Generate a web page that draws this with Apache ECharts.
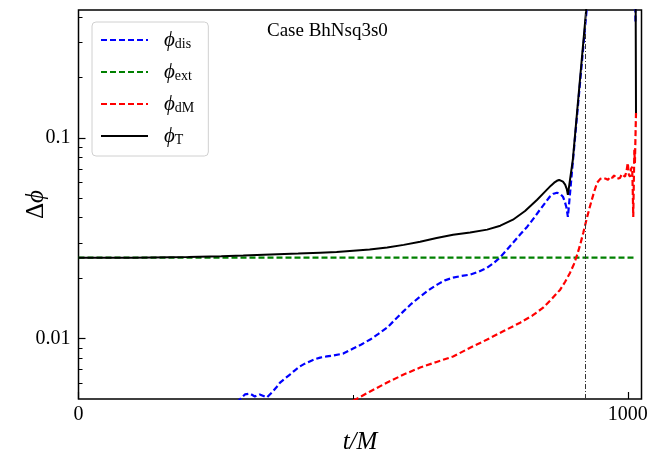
<!DOCTYPE html>
<html>
<head>
<meta charset="utf-8">
<script src="https://cdn.jsdelivr.net/npm/echarts@6/dist/echarts.min.js"></script>
<style>
  html, body { margin: 0; padding: 0; background: #fff; }
  #chart { width: 649px; height: 453px; }
</style>
</head>
<body>
<div id="chart"></div>
<script>
// t/M samples and delta phi values
const tDis = [288, 303, 312, 321, 330, 343, 352, 360, 367, 376, 385, 394, 403, 412, 421, 430, 440, 452, 463, 482, 500, 515, 531, 546, 562, 576, 591, 606, 622, 637, 653, 667, 682, 697, 713, 728, 744, 756, 767, 779, 791, 804, 817, 829, 840, 850, 858, 865, 871, 877, 882, 885, 888, 891, 895, 900, 926, 940, 1000, 1013, 1014];
const phiDis = [0.0048, 0.00527, 0.00532, 0.00515, 0.00527, 0.00509, 0.00538, 0.00570, 0.00604, 0.00633, 0.00662, 0.00695, 0.00726, 0.00750, 0.00769, 0.00788, 0.00804, 0.00815, 0.00823, 0.00842, 0.00892, 0.00935, 0.00989, 0.01055, 0.01134, 0.0124, 0.01362, 0.0149, 0.01618, 0.0174, 0.01857, 0.0195, 0.02011, 0.0205, 0.02082, 0.0215, 0.02255, 0.0238, 0.0253, 0.0275, 0.0300, 0.0330, 0.0361, 0.0398, 0.0438, 0.0476, 0.0509, 0.0527, 0.0533, 0.0525, 0.0509, 0.0485, 0.0454, 0.0404, 0.0533, 0.0760, 0.46, 1.0, 1.0, 1.0, 0.38];

const tExt = [0, 1015];
const phiExt = [0.0253, 0.0253];

const tDM = [500, 531, 562, 592, 622, 652, 682, 713, 744, 774, 804, 826, 846, 862, 877, 886, 895, 902, 908, 914, 919, 925, 931, 938, 944, 950, 955, 960, 964, 968, 972, 975, 977, 981, 986, 989, 992, 995, 998, 1000, 1002, 1004, 1006, 1008, 1009, 1010, 1011, 1012, 1013, 1015];
const phiDM = [0.0049, 0.00545, 0.00604, 0.00662, 0.00717, 0.00765, 0.00814, 0.0090, 0.00989, 0.0109, 0.0120, 0.0130, 0.01426, 0.0158, 0.01753, 0.0192, 0.0213, 0.0235, 0.0262, 0.0298, 0.0337, 0.0393, 0.0454, 0.0530, 0.0597, 0.0625, 0.0632, 0.0625, 0.0618, 0.0640, 0.0632, 0.0650, 0.0647, 0.0625, 0.0632, 0.0660, 0.0670, 0.0640, 0.0690, 0.0751, 0.0655, 0.0640, 0.0700, 0.0717, 0.0560, 0.0404, 0.0600, 0.0872, 0.0750, 0.1332];

const tT = [0, 100, 200, 260, 300, 350, 400, 440, 470, 500, 530, 562, 592, 622, 652, 682, 713, 744, 768, 791, 813, 835, 848, 860, 866, 871, 875, 878, 882, 886, 889, 891, 900, 926, 940, 1000, 1014, 1015];
const phiT = [0.0253, 0.0253, 0.0255, 0.0257, 0.0259, 0.0262, 0.0265, 0.0268, 0.0270, 0.0274, 0.0278, 0.0284, 0.0293, 0.0304, 0.0317, 0.0329, 0.0338, 0.0349, 0.0365, 0.0391, 0.0432, 0.0492, 0.0535, 0.0578, 0.0598, 0.0611, 0.0617, 0.0615, 0.0605, 0.0585, 0.0555, 0.0520, 0.0778, 0.49, 1.0, 1.0, 1.0, 0.133];

const mergerT = 923;

const xMajorTicks = [0, 1000];
const xMinorTicks = [500];
const yMajorTicks = [0.01, 0.1];
const yMinorTicks = [0.006, 0.007, 0.008, 0.009, 0.02, 0.03, 0.04, 0.05, 0.06, 0.07, 0.08, 0.09, 0.2, 0.3, 0.4];

const serif = 'Liberation Serif, DejaVu Serif, serif';
const zip = (a, b) => a.map((v, i) => [v, b[i]]);

const myChart = echarts.init(document.getElementById('chart'));

const legendRich = {
  p: { fontFamily: serif, fontStyle: 'italic', fontSize: 21, lineHeight: 22, color: '#000', padding: [0, 0, 0, 11] },
  s: { fontFamily: serif, fontSize: 14, lineHeight: 14, color: '#000', padding: [8, 0, 0, 0] }
};
const subs = { dis: 'dis', ext: 'ext', dM: 'dM', T: 'T' };

myChart.setOption({
  animation: false,
  grid: {
    left: 78.5,
    top: 10,
    right: 7.5,
    bottom: 54,
    outerBoundsMode: 'none',
    containLabel: false,
    show: true,
    borderColor: '#000',
    borderWidth: 1.5,
    backgroundColor: 'transparent'
  },
  graphic: [
    {
      type: 'text',
      left: 267,
      top: 22,
      style: { text: 'Case BhNsq3s0', font: '19px ' + serif, fill: '#000' }
    }
  ],
  legend: {
    orient: 'vertical',
    left: 92,
    top: 22,
    padding: [7, 14, 9, 8],
    itemWidth: 47,
    itemHeight: 14,
    itemGap: 10,
    backgroundColor: 'rgba(255,255,255,0.8)',
    borderColor: '#d0d0d0',
    borderWidth: 1,
    borderRadius: 4,
    itemStyle: { opacity: 0 },
    lineStyle: { width: 2 },
    formatter: function (name) { return '{p|ϕ}{s|' + subs[name] + '}'; },
    textStyle: { rich: legendRich },
    data: ['dis', 'ext', 'dM', 'T']
  },
  xAxis: [
    {
      type: 'value',
      min: 0,
      max: 1025,
      position: 'bottom',
      name: 't/M',
      nameLocation: 'middle',
      nameGap: 26,
      nameTextStyle: { fontFamily: serif, fontStyle: 'italic', fontSize: 25, color: '#000' },
      axisLine: { show: false },
      splitLine: { show: false },
      axisTick: { inside: true, length: 7, lineStyle: { color: '#000', width: 1.2 }, customValues: xMajorTicks },
      axisLabel: {
        customValues: xMajorTicks,
        margin: 6,
        fontFamily: serif,
        fontSize: 20,
        color: '#000',
        formatter: function (v) { return String(Math.round(v)); }
      }
    },
    {
      type: 'value',
      min: 0,
      max: 1025,
      position: 'bottom',
      axisLine: { show: false },
      splitLine: { show: false },
      axisTick: { inside: true, length: 4, lineStyle: { color: '#000', width: 1 }, customValues: xMinorTicks },
      axisLabel: { show: false }
    }
  ],
  yAxis: [
    {
      type: 'log',
      logBase: 10,
      min: 0.005,
      max: 0.4335,
      position: 'left',
      name: '{d|Δ}{p|ϕ}',
      nameLocation: 'middle',
      nameRotate: 90,
      nameGap: 30,
      nameMoveOverlap: false,
      nameTextStyle: {
        rich: {
          d: { fontFamily: serif, fontSize: 25, color: '#000' },
          p: { fontFamily: serif, fontStyle: 'italic', fontSize: 25, color: '#000' }
        }
      },
      axisLine: { show: false },
      splitLine: { show: false },
      axisTick: { inside: true, length: 7, lineStyle: { color: '#000', width: 1.2 }, customValues: yMajorTicks },
      axisLabel: {
        customValues: yMajorTicks,
        margin: 8,
        fontFamily: serif,
        fontSize: 20,
        color: '#000',
        formatter: function (v) { return v < 0.05 ? '0.01' : '0.1'; }
      }
    },
    {
      type: 'log',
      logBase: 10,
      min: 0.005,
      max: 0.4335,
      position: 'left',
      axisLine: { show: false },
      splitLine: { show: false },
      axisTick: { inside: true, length: 4, lineStyle: { color: '#000', width: 1 }, customValues: yMinorTicks },
      axisLabel: { show: false }
    }
  ],
  series: [
    {
      name: 'dis',
      type: 'line',
      symbol: 'none',
      data: zip(tDis, phiDis),
      lineStyle: { color: '#0000ff', width: 2.2, type: [6, 3] },
      itemStyle: { color: '#0000ff' }
    },
    {
      name: 'ext',
      type: 'line',
      symbol: 'none',
      data: zip(tExt, phiExt),
      lineStyle: { color: '#008000', width: 2.2, type: [6, 3] },
      itemStyle: { color: '#008000' },
      markLine: {
        silent: true,
        symbol: 'none',
        label: { show: false },
        lineStyle: { color: '#333', width: 1, type: [5, 2, 1, 2] },
        data: [{ xAxis: mergerT }]
      }
    },
    {
      name: 'dM',
      type: 'line',
      symbol: 'none',
      data: zip(tDM, phiDM),
      lineStyle: { color: '#ff0000', width: 2.2, type: [6, 3] },
      itemStyle: { color: '#ff0000' }
    },
    {
      name: 'T',
      type: 'line',
      symbol: 'none',
      data: zip(tT, phiT),
      lineStyle: { color: '#000', width: 2 },
      itemStyle: { color: '#000' }
    }
  ]
});
</script>
</body>
</html>
